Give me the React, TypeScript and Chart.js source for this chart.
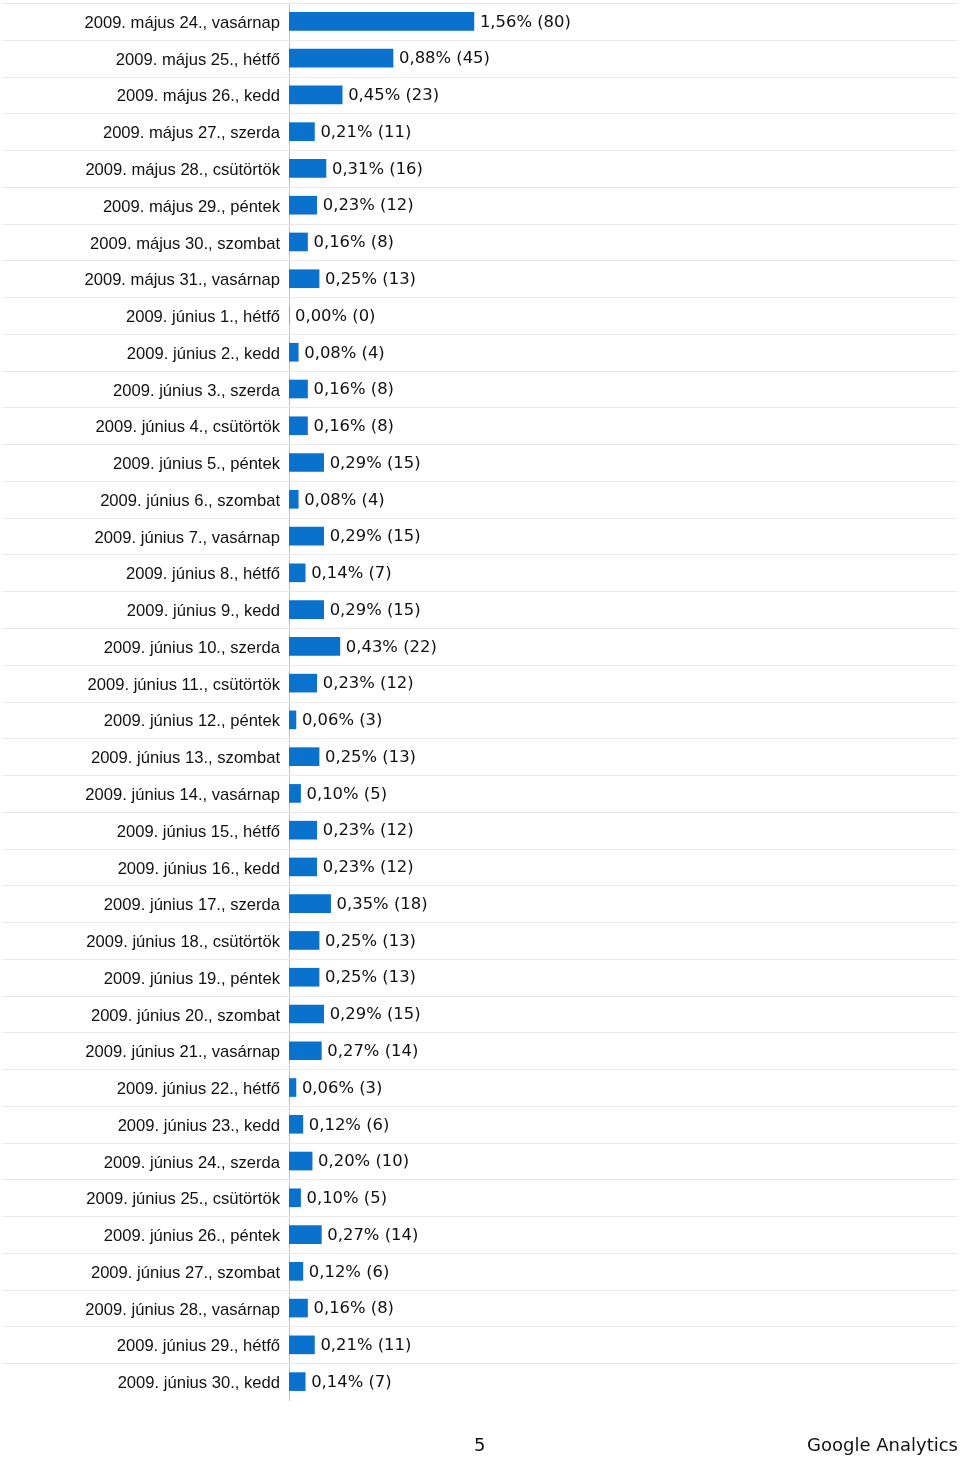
import React, { useEffect, useRef } from "react";
import { Chart, registerables } from "chart.js";

Chart.register(...registerables);

const labels: string[] = [
  "2009. május 24., vasárnap",
  "2009. május 25., hétfő",
  "2009. május 26., kedd",
  "2009. május 27., szerda",
  "2009. május 28., csütörtök",
  "2009. május 29., péntek",
  "2009. május 30., szombat",
  "2009. május 31., vasárnap",
  "2009. június 1., hétfő",
  "2009. június 2., kedd",
  "2009. június 3., szerda",
  "2009. június 4., csütörtök",
  "2009. június 5., péntek",
  "2009. június 6., szombat",
  "2009. június 7., vasárnap",
  "2009. június 8., hétfő",
  "2009. június 9., kedd",
  "2009. június 10., szerda",
  "2009. június 11., csütörtök",
  "2009. június 12., péntek",
  "2009. június 13., szombat",
  "2009. június 14., vasárnap",
  "2009. június 15., hétfő",
  "2009. június 16., kedd",
  "2009. június 17., szerda",
  "2009. június 18., csütörtök",
  "2009. június 19., péntek",
  "2009. június 20., szombat",
  "2009. június 21., vasárnap",
  "2009. június 22., hétfő",
  "2009. június 23., kedd",
  "2009. június 24., szerda",
  "2009. június 25., csütörtök",
  "2009. június 26., péntek",
  "2009. június 27., szombat",
  "2009. június 28., vasárnap",
  "2009. június 29., hétfő",
  "2009. június 30., kedd",
];

const counts: number[] = [
  80, 45, 23, 11, 16, 12, 8, 13, 0, 4, 8, 8, 15, 4, 15, 7, 15, 22, 12, 3, 13, 5, 12, 12, 18,
  13, 13, 15, 14, 3, 6, 10, 5, 14, 6, 8, 11, 7,
];

const percents: string[] = [
  "1,56", "0,88", "0,45", "0,21", "0,31", "0,23", "0,16", "0,25", "0,00", "0,08", "0,16",
  "0,16", "0,29", "0,08", "0,29", "0,14", "0,29", "0,43", "0,23", "0,06", "0,25", "0,10",
  "0,23", "0,23", "0,35", "0,25", "0,25", "0,29", "0,27", "0,06", "0,12", "0,20", "0,10",
  "0,27", "0,12", "0,16", "0,21", "0,14",
];

const pageNumber = "5";
const footerBrand = "Google Analytics";

const separatorPlugin = {
  id: "separators",
  beforeDatasetsDraw(chart: any) {
    const { ctx } = chart;
    const y = chart.scales.y;
    ctx.save();
    ctx.strokeStyle = "#e9e9e9";
    ctx.lineWidth = 1;
    for (let i = 0; i < labels.length; i++) {
      const py = Math.round(y.getPixelForValue(i - 0.5)) + 0.5;
      ctx.beginPath();
      ctx.moveTo(3, py);
      ctx.lineTo(957, py);
      ctx.stroke();
    }
    ctx.restore();
  },
};

const valueLabelPlugin = {
  id: "valueLabels",
  afterDatasetsDraw(chart: any) {
    const { ctx } = chart;
    const meta = chart.getDatasetMeta(0);
    ctx.save();
    ctx.font = '16.4px "DejaVu Sans"';
    ctx.fillStyle = "#111111";
    ctx.textAlign = "left";
    ctx.textBaseline = "middle";
    meta.data.forEach((bar: any, i: number) => {
      ctx.fillText(`${percents[i]}% (${counts[i]})`, bar.x + 6, bar.y + 1);
    });
    ctx.restore();
  },
};

export default function App() {
  const canvasRef = useRef<HTMLCanvasElement | null>(null);

  useEffect(() => {
    document.body.style.margin = "0";
    const canvas = canvasRef.current;
    if (!canvas) return;
    const chart = new Chart(canvas, {
      type: "bar",
      data: {
        labels,
        datasets: [
          {
            data: counts,
            backgroundColor: "#0a71cc",
            borderWidth: 0,
            barThickness: 18,
          },
        ],
      },
      options: {
        indexAxis: "y",
        animation: false,
        responsive: false,
        maintainAspectRatio: false,
        layout: { padding: { top: 3, bottom: 58, left: 0, right: 3 } },
        plugins: { legend: { display: false }, tooltip: { enabled: false } },
        scales: {
          x: {
            display: false,
            min: 0,
            max: 289,
          },
          y: {
            afterFit(scale: any) {
              scale.width = 289;
              scale.paddingTop = 0;
              scale.paddingBottom = 0;
            },
            grid: { display: false, drawTicks: false },
            border: { display: true, color: "#c4c4c4", width: 1 },
            ticks: {
              padding: 9,
              labelOffset: 2,
              color: "#111111",
              font: { family: '"Liberation Sans", Arial, sans-serif', size: 16.6 },
              autoSkip: false,
            },
          },
        },
      },
      plugins: [separatorPlugin, valueLabelPlugin],
    } as any);
    return () => chart.destroy();
  }, []);

  return (
    <div style={{ position: "relative", width: 960, height: 1458, background: "#fff" }}>
      <canvas ref={canvasRef} width={960} height={1458} style={{ display: "block" }} />
      <div
        style={{
          position: "absolute",
          left: 474,
          top: 1434,
          fontFamily: '"DejaVu Sans"',
          fontSize: 18,
          color: "#111",
          lineHeight: "22px",
        }}
      >
        {pageNumber}
      </div>
      <div
        style={{
          position: "absolute",
          right: 2,
          top: 1434,
          fontFamily: '"DejaVu Sans"',
          fontSize: 18,
          color: "#111",
          lineHeight: "22px",
        }}
      >
        {footerBrand}
      </div>
    </div>
  );
}
